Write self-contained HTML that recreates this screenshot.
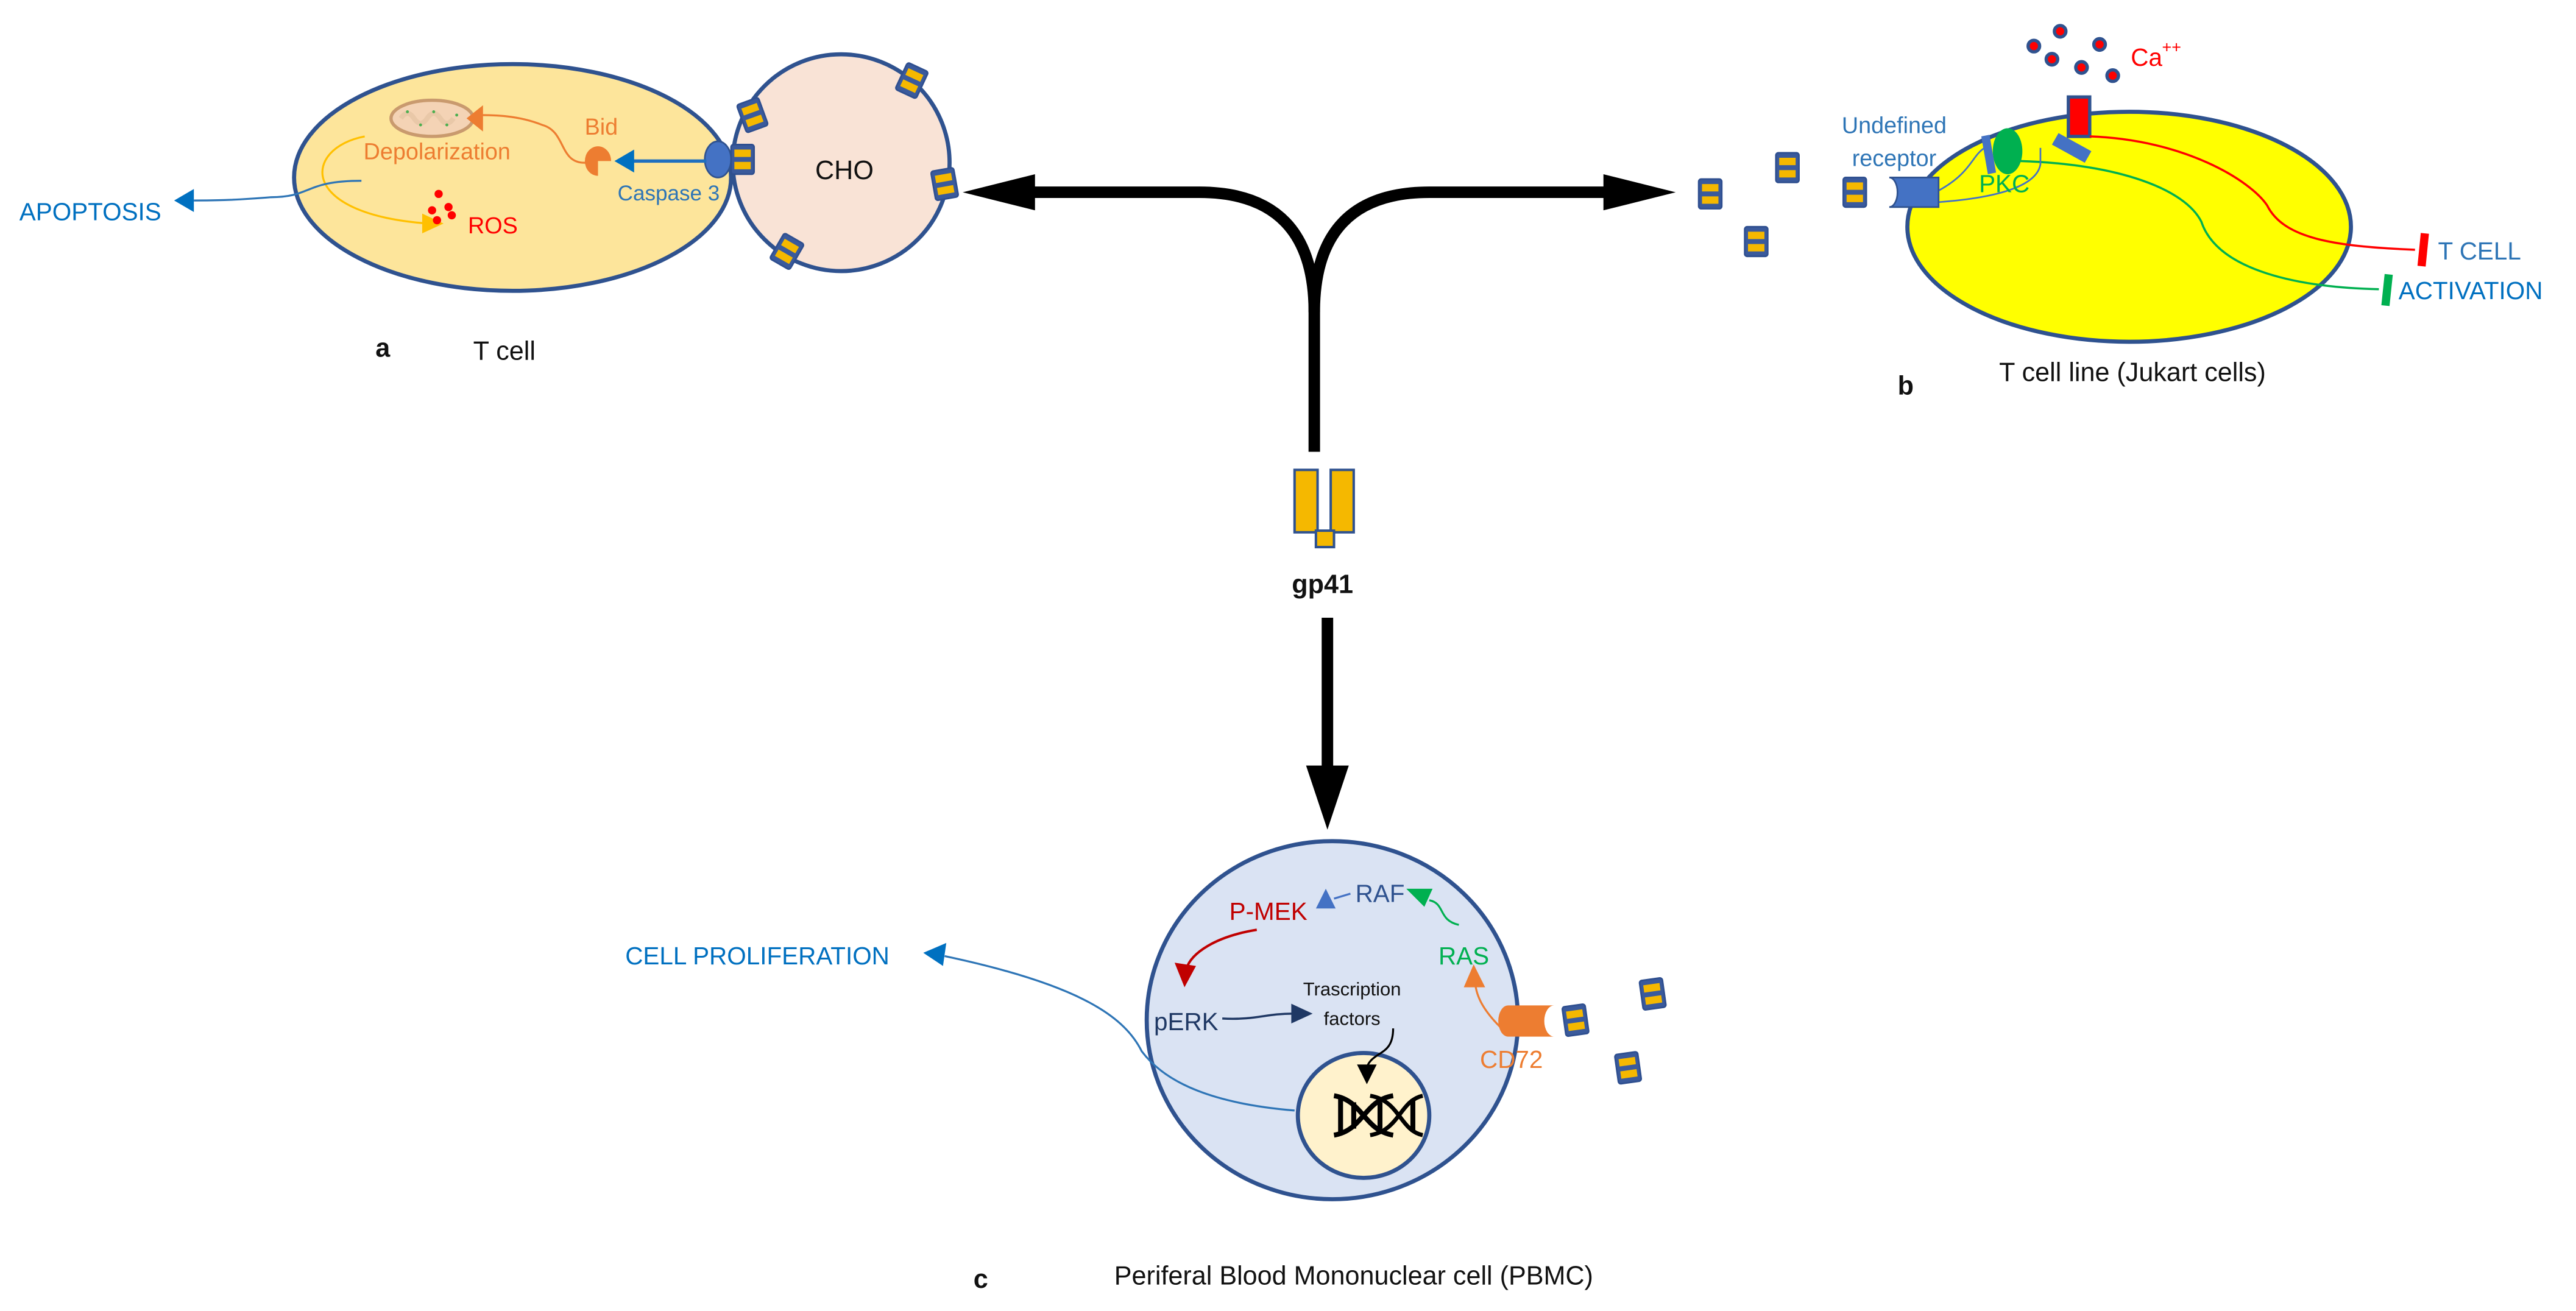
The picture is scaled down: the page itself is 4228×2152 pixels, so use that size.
<!DOCTYPE html>
<html><head><meta charset="utf-8"><style>
html,body{margin:0;padding:0;background:#fff}
svg{display:block}
text{font-family:"Liberation Sans",sans-serif}
</style></head><body>
<svg width="4228" height="2152" viewBox="0 0 1568 798" xmlns="http://www.w3.org/2000/svg">
<defs>
<g id="gp">
<rect x="-7" y="-9" width="14" height="18" rx="1.5" fill="#3a5a9c" stroke="#2f4f8f" stroke-width="1"/>
<rect x="-5" y="-6" width="10" height="4.5" fill="#f5b800"/>
<rect x="-5" y="1.5" width="10" height="4.5" fill="#f5b800"/>
</g>
</defs>
<rect width="1568" height="798" fill="#fff"/>

<!-- ===== a: T cell + CHO ===== -->
<ellipse cx="312" cy="108" rx="133" ry="69" fill="#fde59b" stroke="#2f528f" stroke-width="2.5"/>
<ellipse cx="512" cy="99" rx="66" ry="66" fill="#f9e3d6" stroke="#2f528f" stroke-width="2.5"/>
<use href="#gp" transform="translate(452,97)"/>
<use href="#gp" transform="translate(458,70) rotate(-20)"/>
<use href="#gp" transform="translate(555,49) rotate(25)"/>
<use href="#gp" transform="translate(575,112) rotate(-10)"/>
<use href="#gp" transform="translate(479,153) rotate(30)"/>
<text x="514" y="109" font-size="16" text-anchor="middle" fill="#111">CHO</text>
<!-- caspase receptor -->
<ellipse cx="437" cy="97" rx="8" ry="11" fill="#4472c4" stroke="#2f528f" stroke-width="1"/>
<!-- mitochondrion -->
<ellipse cx="263" cy="72" rx="25" ry="11" fill="#f4d3b5" stroke="#c99a6e" stroke-width="2"/>
<path d="M244,72 q4,-6 8,0 q4,6 8,0 q4,-6 8,0 q4,6 8,0" fill="none" stroke="#e9c8a8" stroke-width="3"/>
<g fill="#4caf50"><circle cx="248" cy="68" r="0.9"/><circle cx="256" cy="76" r="0.9"/><circle cx="264" cy="68" r="0.9"/><circle cx="272" cy="76" r="0.9"/><circle cx="278" cy="70" r="0.9"/></g>
<!-- caspase arrow -->
<line x1="430" y1="98" x2="385" y2="98" stroke="#1f6fbf" stroke-width="2"/>
<polygon points="374,98 386,91 386,105" fill="#0070c0"/>
<!-- Bid -->
<path d="M366,90 A8,9 0 1,0 366,108 L366,99 L374,99 A8,9 0 0,0 366,90 Z" fill="#ed7d31" transform="translate(-2,-1)"/>
<path d="M357,99 C340,100 345,80 330,76 C315,70 300,70 290,70" fill="none" stroke="#ed7d31" stroke-width="1.2"/>
<polygon points="284,72 294,64 294,80" fill="#ed7d31"/>
<text x="366" y="82" font-size="14" text-anchor="middle" fill="#ed7d31">Bid</text>
<text x="266" y="97" font-size="14" text-anchor="middle" fill="#ed7d31">Depolarization</text>
<text x="407" y="122" font-size="13" text-anchor="middle" fill="#2e75b6">Caspase 3</text>
<!-- yellow arc -->
<path d="M222,83 C185,90 180,130 260,136" fill="none" stroke="#ffc000" stroke-width="1.2"/>
<polygon points="270,136 257,130 257,142" fill="#ffc000"/>
<!-- ROS -->
<g fill="#ff0000"><circle cx="267" cy="118" r="2.5"/><circle cx="273" cy="126" r="2.5"/><circle cx="263" cy="128" r="2.5"/><circle cx="266" cy="134" r="2.5"/><circle cx="275" cy="131" r="2.5"/></g>
<text x="300" y="142" font-size="14" text-anchor="middle" fill="#ff0000">ROS</text>
<!-- apoptosis -->
<path d="M220,110 C185,110 190,120 165,120 C140,122 130,122 118,122" fill="none" stroke="#2e75b6" stroke-width="1.2"/>
<polygon points="106,122 118,115 118,129" fill="#0070c0"/>
<text x="55" y="134" font-size="15" text-anchor="middle" fill="#0070c0">APOPTOSIS</text>
<text x="233" y="217" font-size="16" font-weight="bold" text-anchor="middle" fill="#111">a</text>
<text x="307" y="219" font-size="16" text-anchor="middle" fill="#111">T cell</text>

<!-- ===== central arrows ===== -->
<path d="M800,275 L800,190 Q800,117 730,117 L625,117" fill="none" stroke="#000" stroke-width="7"/>
<path d="M800,190 Q800,117 870,117 L985,117" fill="none" stroke="#000" stroke-width="7"/>
<polygon points="586,117 630,106 630,128" fill="#000"/>
<polygon points="1020,117 976,106 976,128" fill="#000"/>
<!-- gp41 -->
<rect x="788" y="286" width="14" height="38" fill="#f5b800" stroke="#2f528f" stroke-width="1.5"/>
<rect x="810" y="286" width="14" height="38" fill="#f5b800" stroke="#2f528f" stroke-width="1.5"/>
<rect x="801" y="323" width="11" height="10" fill="#f5b800" stroke="#2f528f" stroke-width="1.5"/>
<text x="805" y="361" font-size="16" font-weight="bold" text-anchor="middle" fill="#111">gp41</text>
<line x1="808" y1="376" x2="808" y2="470" stroke="#000" stroke-width="7"/>
<polygon points="808,505 795,466 821,466" fill="#000"/>

<!-- ===== b ===== -->
<ellipse cx="1296" cy="138" rx="135" ry="70" fill="#ffff00" stroke="#2f528f" stroke-width="2.5"/>
<g fill="#ff0000" stroke="#2f528f" stroke-width="2">
<circle cx="1254" cy="19" r="3.5"/><circle cx="1238" cy="28" r="3.5"/><circle cx="1278" cy="27" r="3.5"/>
<circle cx="1249" cy="36" r="3.5"/><circle cx="1267" cy="41" r="3.5"/><circle cx="1286" cy="46" r="3.5"/></g>
<text x="1297" y="40" font-size="15" fill="#ff0000">Ca</text><text x="1316" y="32" font-size="10" fill="#ff0000">++</text>
<rect x="1259" y="59" width="13" height="24" fill="#ff0000" stroke="#2f528f" stroke-width="2"/>
<polygon points="1249,88 1253,81 1273,92 1269,99" fill="#4472c4"/>
<path d="M1272,83 C1330,85 1370,110 1380,125 C1390,145 1420,150 1470,152" fill="none" stroke="#ff0000" stroke-width="1.3"/>
<line x1="1476" y1="142" x2="1474" y2="162" stroke="#ff0000" stroke-width="5"/>
<ellipse cx="1222" cy="92" rx="9" ry="14" fill="#00b050"/>
<polygon points="1206,83 1211,82 1215,105 1210,106" fill="#4472c4"/>
<path d="M1230,98 C1290,100 1330,115 1340,135 C1350,165 1400,175 1448,176" fill="none" stroke="#00b050" stroke-width="1.3"/>
<line x1="1454" y1="167" x2="1452" y2="186" stroke="#00b050" stroke-width="5"/>
<path d="M1180,123 C1220,120 1240,112 1242,100 L1242,90" fill="none" stroke="#4472c4" stroke-width="1"/>
<path d="M1180,116 C1200,105 1200,95 1208,90" fill="none" stroke="#4472c4" stroke-width="1"/>
<path d="M1150,108 L1180,108 L1180,126 L1150,126 A5,9 0 0,0 1150,108 Z" fill="#4472c4" stroke="#2f528f" stroke-width="1"/>
<use href="#gp" transform="translate(1041,118)"/>
<use href="#gp" transform="translate(1088,102)"/>
<use href="#gp" transform="translate(1129,117)"/>
<use href="#gp" transform="translate(1069,147)"/>
<text x="1153" y="81" font-size="14" text-anchor="middle" fill="#2e75b6">Undefined</text>
<text x="1153" y="101" font-size="14" text-anchor="middle" fill="#2e75b6">receptor</text>
<text x="1220" y="117" font-size="15" text-anchor="middle" fill="#00b050">PKC</text>
<text x="1484" y="158" font-size="15" fill="#2e75b6">T CELL</text>
<text x="1460" y="182" font-size="15" fill="#0070c0">ACTIVATION</text>
<text x="1160" y="240" font-size="16" font-weight="bold" text-anchor="middle" fill="#111">b</text>
<text x="1298" y="232" font-size="16" text-anchor="middle" fill="#111">T cell line  (Jukart cells)</text>

<!-- ===== c ===== -->
<ellipse cx="811" cy="621" rx="113" ry="109" fill="#dae3f3" stroke="#2f528f" stroke-width="2.5"/>
<ellipse cx="830" cy="679" rx="40" ry="38" fill="#fff2cc" stroke="#2f528f" stroke-width="2.5"/>
<!-- DNA -->
<g stroke="#000" stroke-width="3" fill="none">
<path d="M812,667 C830,670 830,688 848,691"/><path d="M812,691 C830,688 830,670 848,667"/>
<path d="M834,667 C852,670 852,688 866,691" stroke-width="2.5"/><path d="M834,691 C852,688 852,670 866,667" stroke-width="2.5"/>
<line x1="816" y1="669" x2="816" y2="689"/><line x1="824" y1="671" x2="824" y2="687"/><line x1="840" y1="671" x2="840" y2="687"/><line x1="860" y1="669" x2="860" y2="689"/>
</g>
<path d="M788,676 C740,672 710,660 695,640 C685,620 660,600 575,582" fill="none" stroke="#2e75b6" stroke-width="1.2"/>
<polygon points="562,580 576,574 574,588" fill="#0070c0"/>
<text x="461" y="587" font-size="15" text-anchor="middle" fill="#0070c0">CELL PROLIFERATION</text>
<!-- CD72 -->
<path d="M918,612 L946,612 A6,9.5 0 0,0 946,631 L918,631 A6,9.5 0 0,1 918,612 Z" fill="#ed7d31"/>
<use href="#gp" transform="translate(959,621) rotate(-8)"/>
<use href="#gp" transform="translate(1006,605) rotate(-8)"/>
<use href="#gp" transform="translate(991,650) rotate(-8)"/>
<text x="920" y="650" font-size="15" text-anchor="middle" fill="#ed7d31">CD72</text>
<path d="M913,625 C903,615 897,605 898,594" fill="none" stroke="#ed7d31" stroke-width="1.2"/>
<polygon points="897,587 891,601 904,601" fill="#ed7d31"/>
<text x="891" y="587" font-size="15" text-anchor="middle" fill="#00b050">RAS</text>
<path d="M888,563 C875,560 880,550 870,548" fill="none" stroke="#00b050" stroke-width="1.2"/>
<polygon points="856,541 872,541 867,552" fill="#00b050"/>
<text x="840" y="549" font-size="15" text-anchor="middle" fill="#2f528f">RAF</text>
<line x1="822" y1="544" x2="812" y2="547" stroke="#4472c4" stroke-width="1.2"/>
<polygon points="807,541 801,553 813,553" fill="#4472c4"/>
<text x="772" y="560" font-size="15" text-anchor="middle" fill="#c00000">P-MEK</text>
<path d="M765,566 C740,570 725,580 722,590" fill="none" stroke="#c00000" stroke-width="1.5"/>
<polygon points="721,601 715,586 728,588" fill="#c00000"/>
<text x="722" y="627" font-size="15" text-anchor="middle" fill="#1f3864">pERK</text>
<path d="M744,620 C765,621 770,617 787,617" fill="none" stroke="#1f3864" stroke-width="1.3"/>
<polygon points="799,617 786,611 786,623" fill="#1f3864"/>
<text x="823" y="606" font-size="11.5" text-anchor="middle" fill="#111">Trascription</text>
<text x="823" y="624" font-size="11.5" text-anchor="middle" fill="#111">factors</text>
<path d="M848,626 C848,640 840,640 835,645 C832,648 832,650 832,652" fill="none" stroke="#000" stroke-width="1.2"/>
<polygon points="832,660 826,648 838,648" fill="#000"/>
<text x="597" y="784" font-size="16" font-weight="bold" text-anchor="middle" fill="#111">c</text>
<text x="824" y="782" font-size="16" text-anchor="middle" fill="#111">Periferal Blood Mononuclear cell (PBMC)</text>
</svg>
</body></html>
